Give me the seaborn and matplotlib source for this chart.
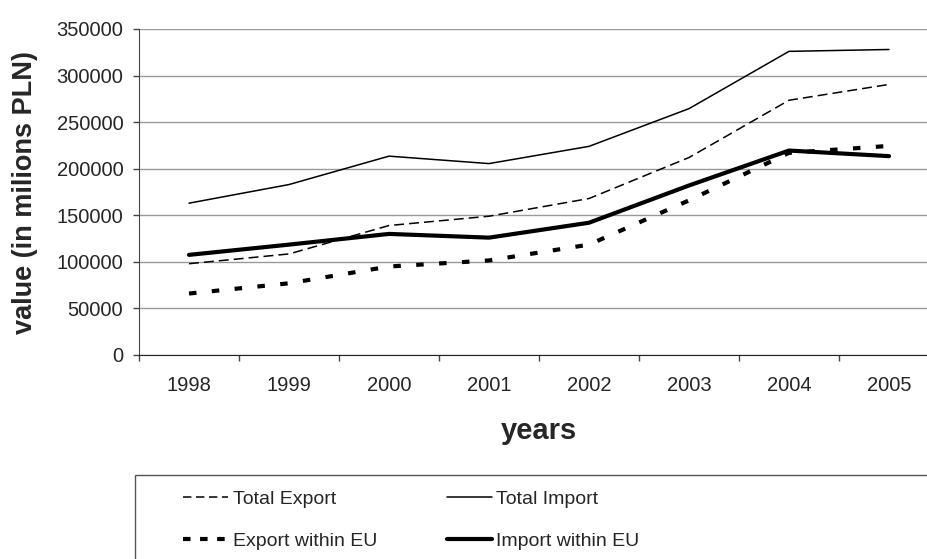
import pandas as pd
import seaborn as sns
import matplotlib.pyplot as plt
from matplotlib.patches import Rectangle
from matplotlib.lines import Line2D

# values (millions PLN)
years = ["1998", "1999", "2000", "2001", "2002", "2003", "2004", "2005"]
total_export = [98000, 108500, 139000, 149000, 168000, 212000, 273500, 290500]
total_import = [163000, 183000, 213500, 205500, 224000, 264500, 326000, 328000]
export_eu = [66000, 77000, 95000, 101500, 118500, 166000, 217000, 224500]
import_eu = [107500, 118500, 130000, 126000, 142000, 182000, 219500, 213500]

series = {
    "Total Export": total_export,
    "Total Import": total_import,
    "Export within EU": export_eu,
    "Import within EU": import_eu,
}
# line width, dashes in the plot, dashes in the legend
styles = {
    "Total Export": (1.1, (6.5, 3.3), (5.5, 3.0)),
    "Total Import": (1.1, None, None),
    "Export within EU": (3.0, (1.8, 3.7), (1.8, 2.3)),
    "Import within EU": (3.0, None, None),
}

rows = []
for name, vals in series.items():
    for i, v in enumerate(vals):
        rows.append({"series": name, "x": i, "value": v})
df = pd.DataFrame(rows)

sns.set_style("white")
plt.rcParams["font.family"] = ["Liberation Sans", "DejaVu Sans"]

fig = plt.figure(figsize=(9.28, 5.59), dpi=100)
ax = fig.add_axes([139 / 928, 1 - 355 / 559, 800 / 928, 326 / 559])

for name in series:
    lw, dsh, _ = styles[name]
    sub = df[df["series"] == name]
    sns.lineplot(data=sub, x="x", y="value", ax=ax, color="black", lw=lw)
    ln = ax.lines[-1]
    if dsh:
        ln.set_dashes(dsh)
        ln.set_dash_capstyle("butt")

ax.set_xlim(-0.5, 7.5)
ax.set_ylim(0, 350000)
ax.set_yticks(range(0, 350001, 50000))
ax.set_yticklabels([str(v) for v in range(0, 350001, 50000)], fontsize=14.5)
ax.yaxis.grid(True, color="#999999", lw=1)
ax.set_axisbelow(True)
ax.tick_params(axis="y", length=4.3, width=1, color="#444444", direction="out", left=True, pad=7)

ax.set_xticks(range(len(years)))
ax.set_xticklabels(years, fontsize=14.5)
ax.set_xticks([i - 0.5 for i in range(len(years) + 1)], minor=True)
ax.tick_params(axis="x", which="major", length=0, pad=15)
ax.tick_params(axis="x", which="minor", length=4.3, width=1, color="#444444", direction="out", bottom=True)

for s in ["top", "right"]:
    ax.spines[s].set_visible(False)
ax.spines["left"].set_color("#444444")
ax.spines["bottom"].set_color("#222222")

ax.set_xlabel("years", fontsize=21, fontweight="bold", labelpad=16)
ax.set_ylabel("value (in milions PLN)", fontsize=19.5, fontweight="bold", labelpad=13)

# legend box, cut off at the right and bottom like the original
fig.patches.append(Rectangle((135 / 928, -0.2), 1.0, 0.2 + 1 - 475 / 559,
                             transform=fig.transFigure, fill=False,
                             edgecolor="#555555", lw=1))
handles = []
for n in series:
    lw, _, ldsh = styles[n]
    h = Line2D([], [], color="black", lw=lw, dash_capstyle="butt")
    if ldsh:
        h.set_dashes(ldsh)
    handles.append(h)
names = list(series)
order = [0, 2, 1, 3]
fig.legend([handles[i] for i in order], [names[i] for i in order],
           loc="upper left", bbox_to_anchor=(183 / 928, 1 - 490 / 559),
           ncol=2, frameon=False, handlelength=2.3,
           handletextpad=0.25, columnspacing=3.6, labelspacing=1.25,
           borderpad=0, borderaxespad=0, fontsize=14)

fig.savefig("out.png", dpi=100)
